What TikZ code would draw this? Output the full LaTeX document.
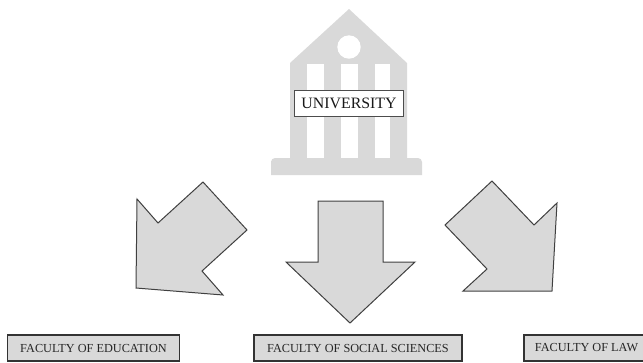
\documentclass[tikz,border=0pt]{standalone}
\usepackage{fontspec}
\setmainfont{Liberation Serif}
\definecolor{bgrey}{HTML}{D9D9D9}
\tikzset{
  px/.style={x=0.75pt,y=-0.75pt},
  bldg/.style={fill=bgrey,draw=none},
  gap/.style={fill=white,draw=none},
  arrowshape/.style={fill=bgrey,draw=black!75,line width=0.75pt,line join=miter},
  facultybox/.style={draw=black!80,line width=0.8pt,fill=bgrey},
  facultytext/.style={inner sep=0pt,font=\fontsize{9.2}{11}\selectfont,text=black!85},
  faculty/.style={facultybox,facultytext,minimum height=19.5pt},
  unilabel/.style={draw=black!70,line width=0.6pt,fill=white,inner sep=0pt,font=\fontsize{11.9}{14}\selectfont,text=black!90}
}
\begin{document}
\begin{tikzpicture}[px]
\useasboundingbox (0,0) rectangle (643,362);
\clip (0,0) rectangle (643,362);
% building
\path[bldg] (349,9) -- (407,63) -- (407,158) -- (290,158) -- (290,63) -- cycle;
\path[bldg] (271,175) -- (271,161) [rounded corners=3pt] -- (271,158) -- (422,158) [sharp corners] -- (422,175) -- cycle;
\path[gap] (307,64) rectangle (324,158);
\path[gap] (341,64) rectangle (358,158);
\path[gap] (375,64) rectangle (390,158);
\path[gap] (349,47) circle[radius=11.7];
\node[unilabel,minimum width=82pt,minimum height=20pt] (uni) at (349,103.5) {UNIVERSITY};
% arrows
\path[arrowshape] (203,182) -- (247,230) -- (202,271) -- (223,295) -- (136,288) -- (137,199) -- (158,223) -- cycle;
\path[arrowshape] (318,201) -- (383,201) -- (383,262) -- (415,262) -- (350,323) -- (286,262) -- (318,262) -- cycle;
\path[arrowshape] (492,181) -- (534,225) -- (557,203) -- (552,291) -- (463,291) -- (487,269) -- (445,225) -- cycle;
% faculties
\node[faculty,minimum width=129.5pt] (edu) at (93.5,348) {FACULTY OF EDUCATION};
\node[faculty,minimum width=156pt] (soc) at (358,348) {FACULTY OF SOCIAL SCIENCES};
\path[facultybox] (524,335) rectangle (660,361);
\node[facultytext] (law) at (586.5,348) {FACULTY OF LAW};
\end{tikzpicture}
\end{document}
